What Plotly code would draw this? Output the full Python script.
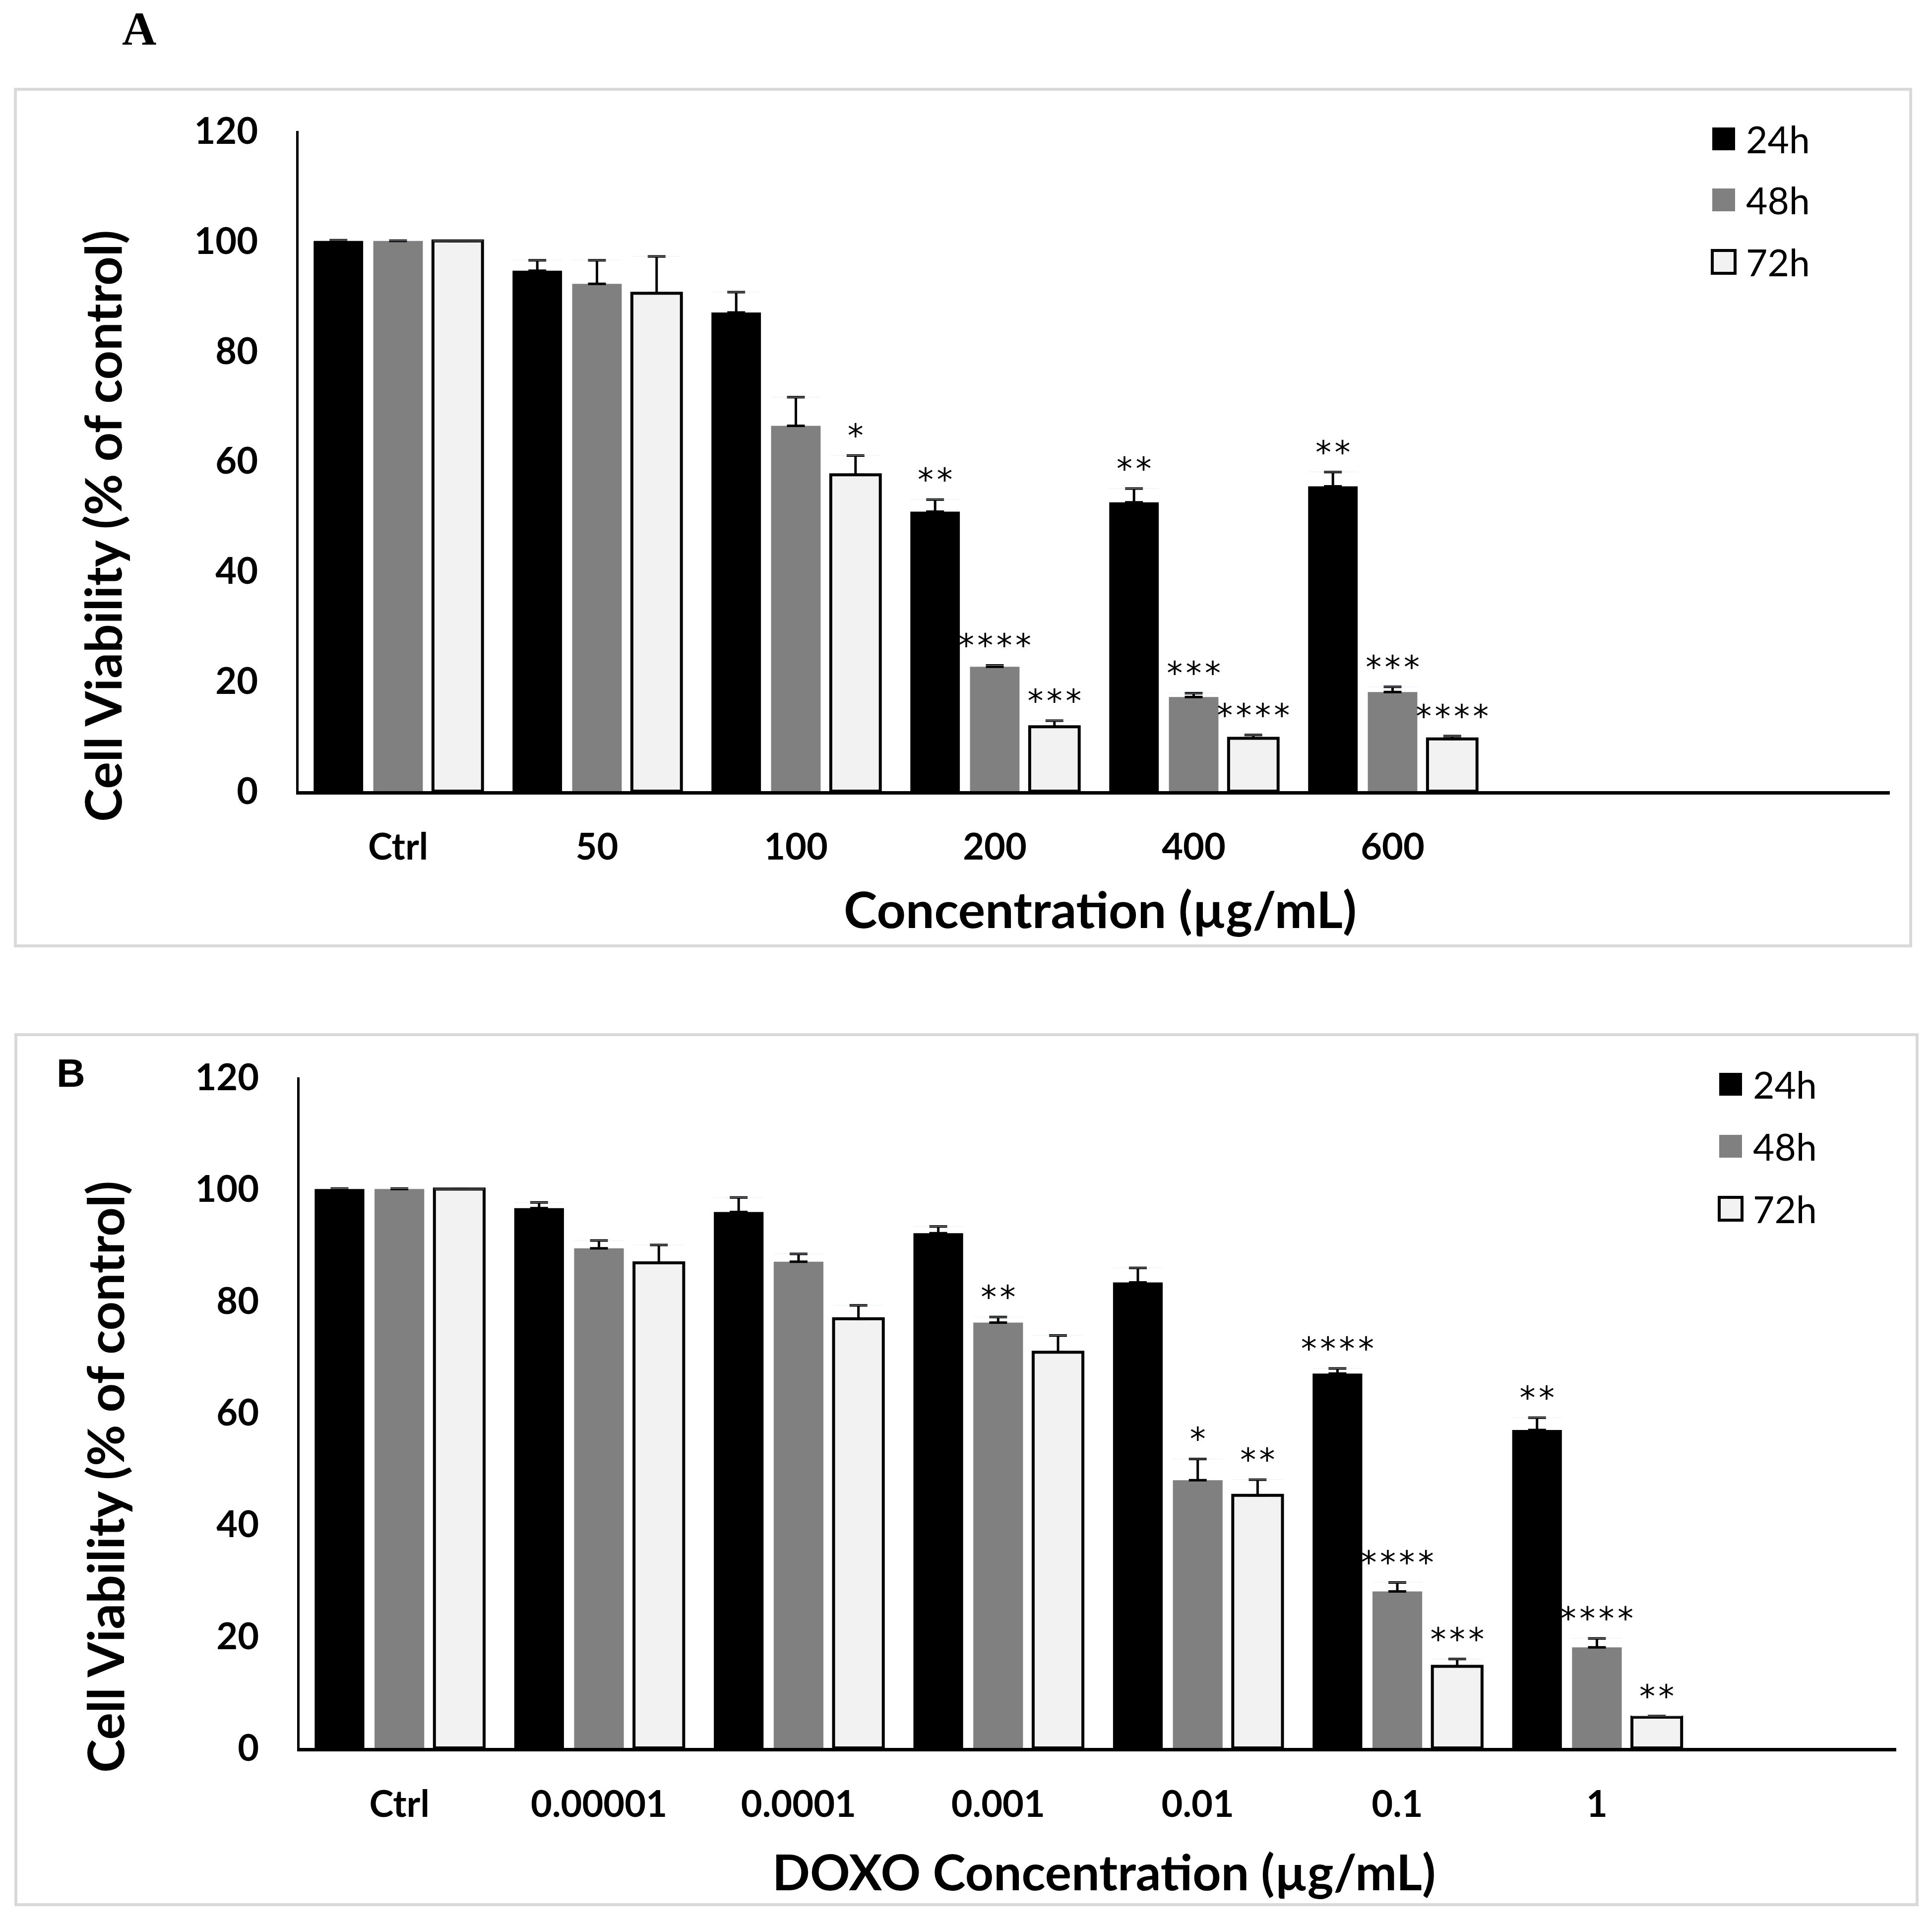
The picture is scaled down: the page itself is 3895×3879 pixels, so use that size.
import plotly.graph_objects as go

W, H = 3895, 3879

SERIES = ["24h", "48h", "72h"]

# ---------------- Panel A data ----------------
CATS_A = ["Ctrl", "50", "100", "200", "400", "600"]
A_PAD = [" ", "  "]            # empty category slots at the end of the axis
A_24 = [100, 94.6, 87.0, 50.8, 52.5, 55.4]
A_24_ERR = [0.15, 1.9, 3.7, 2.2, 2.5, 2.6]
A_48 = [100, 92.2, 66.4, 22.6, 17.1, 18.0]
A_48_ERR = [0.05, 4.3, 5.2, 0.25, 0.7, 0.95]
A_72 = [100, 90.5, 57.5, 11.7, 9.6, 9.5]
A_72_ERR = [0.0, 6.7, 3.5, 1.1, 0.6, 0.5]
A_24_SIG = ["", "", "", "**", "**", "**"]
A_48_SIG = ["", "", "", "****", "***", "***"]
A_72_SIG = ["", "", "*", "***", "****", "****"]

# ---------------- Panel B data ----------------
CATS_B = ["Ctrl", "0.00001", "0.0001", "0.001", "0.01", "0.1", "1"]
B_PAD = [" "]
B_24 = [100, 96.6, 95.9, 92.1, 83.3, 67.0, 56.9]
B_24_ERR = [0.1, 1.0, 2.6, 1.2, 2.6, 0.9, 2.2]
B_48 = [100, 89.4, 87.0, 76.1, 47.9, 28.0, 18.0]
B_48_ERR = [0.1, 1.4, 1.4, 1.0, 3.8, 1.6, 1.6]
B_72 = [100, 86.8, 76.8, 70.8, 45.2, 14.6, 5.5]
B_72_ERR = [0.0, 3.2, 2.4, 3.0, 2.8, 1.3, 0.2]
B_24_SIG = ["", "", "", "", "", "****", "**"]
B_48_SIG = ["", "", "", "**", "*", "****", "****"]
B_72_SIG = ["", "", "", "", "**", "***", "**"]

Y_TICKS = [0, 20, 40, 60, 80, 100, 120]
Y_TITLE = "Cell Viability (% of control)"
X_TITLE_A = "Concentration (µg/mL)"
X_TITLE_B = "DOXO Concentration (µg/mL)"

# ---------------- styles ----------------
FILL = {"24h": "#000000", "48h": "#808080", "72h": "#f2f2f2"}
EDGE = {"24h": 0, "48h": 0, "72h": 6}
TICKFONT = dict(family="Lato", size=74, color="black", weight="bold")
TITLEFONT = dict(family="Lato", size=102, color="black", weight="bold")
STARFONT = dict(family="DejaVu Sans", size=64, color="black")
LEGFONT = dict(family="Lato", size=75, color="black")


def fx(px):
    return px / W


def fy(py):
    return 1 - py / H


def spaced(label):
    # hair-space between asterisks to mimic the looser tracking of the original
    return "\u200a".join(label)


fig = go.Figure()

panels = [
    dict(xa="x", ya="y", cats=CATS_A,
         vals=[A_24, A_48, A_72], errs=[A_24_ERR, A_48_ERR, A_72_ERR],
         sigs=[A_24_SIG, A_48_SIG, A_72_SIG]),
    dict(xa="x2", ya="y2", cats=CATS_B,
         vals=[B_24, B_48, B_72], errs=[B_24_ERR, B_48_ERR, B_72_ERR],
         sigs=[B_24_SIG, B_48_SIG, B_72_SIG]),
]

for p in panels:
    n = len(p["cats"])
    for i, s in enumerate(SERIES):
        vals, errs, sigs = p["vals"][i], p["errs"][i], p["sigs"][i]
        fig.add_trace(go.Bar(
            x=p["cats"], y=vals, name=s, xaxis=p["xa"], yaxis=p["ya"],
            offsetgroup=s, showlegend=False, hoverinfo="skip",
            marker=dict(color=FILL[s], line=dict(color="black", width=EDGE[s])),
            error_y=dict(type="data", array=errs, arrayminus=[0] * n,
                         symmetric=False, color="black", thickness=5, width=18),
        ))
        # significance stars placed just above each error bar
        fig.add_trace(go.Bar(
            x=p["cats"], y=[0.01] * n, base=[v + e for v, e in zip(vals, errs)],
            xaxis=p["xa"], yaxis=p["ya"], offsetgroup=s, showlegend=False,
            hoverinfo="skip", marker=dict(color="rgba(0,0,0,0)"),
            text=[spaced(t) for t in sigs], textposition="outside",
            constraintext="none", textfont=STARFONT, cliponaxis=False,
        ))

common_y = dict(range=[0, 120], tickvals=Y_TICKS, showline=True, linewidth=5,
                linecolor="black", showgrid=False, zeroline=False, ticks="",
                tickfont=TICKFONT, ticklabelstandoff=62, fixedrange=True,
                automargin=False)
common_x = dict(type="category", categoryorder="array", range=[-0.5, 7.5],
                showline=True, linewidth=7, linecolor="black", showgrid=False,
                zeroline=False, ticks="", tickfont=TICKFONT, fixedrange=True,
                automargin=False)

fig.update_layout(
    width=W, height=H, autosize=False,
    margin=dict(l=0, r=0, t=0, b=0, pad=0, autoexpand=False),
    paper_bgcolor="white", plot_bgcolor="white",
    barmode="group", bargap=0.1, bargroupgap=0.17,
    xaxis=dict(domain=[fx(602), fx(3810)], anchor="y",
               categoryarray=CATS_A + A_PAD, ticklabelstandoff=42, **common_x),
    yaxis=dict(domain=[fy(1595), fy(264)], anchor="x", **common_y),
    xaxis2=dict(domain=[fx(604), fx(3823)], anchor="y2",
                categoryarray=CATS_B + B_PAD, ticklabelstandoff=43, **common_x),
    yaxis2=dict(domain=[fy(3524), fy(2172)], anchor="x2", **common_y),
)

shapes = []
annotations = []

# panel frames
for (l, t, r, b) in [(31, 180, 3852, 1907), (32, 2086, 3865, 3840)]:
    shapes.append(dict(type="rect", xref="paper", yref="paper",
                       x0=fx(l), x1=fx(r), y0=fy(b), y1=fy(t),
                       line=dict(color="#d9d9d9", width=6), fillcolor="rgba(0,0,0,0)",
                       layer="below"))

# panel letters
annotations.append(dict(text="A", x=fx(280), y=fy(57), xref="paper", yref="paper",
                        showarrow=False, xanchor="center", yanchor="middle",
                        font=dict(family="Liberation Serif", size=96, color="black",
                                  weight="bold")))
annotations.append(dict(text="B", x=fx(143), y=fy(2163), xref="paper", yref="paper",
                        showarrow=False, xanchor="center", yanchor="middle",
                        font=dict(family="Liberation Sans", size=80, color="black",
                                  weight="bold")))

# axis titles
for (txt, x, y, ang, sz) in [(Y_TITLE, 205, 1061, -90, 102), (Y_TITLE, 210, 2978, -90, 102),
                             (X_TITLE_A, 2218, 1831, 0, 102), (X_TITLE_B, 2225, 3772, 0, 100)]:
    annotations.append(dict(text=txt, x=fx(x), y=fy(y), xref="paper", yref="paper",
                            showarrow=False, xanchor="center", yanchor="middle",
                            textangle=ang, font=dict(TITLEFONT, size=sz)))

# legends (large square swatches)
for (sq_left, rows) in [(3452, [280, 403, 528]), (3466, [2186, 2311, 2437])]:
    for s, cy in zip(SERIES, rows):
        shapes.append(dict(type="rect", xref="paper", yref="paper",
                           x0=fx(sq_left), x1=fx(sq_left + 46),
                           y0=fy(cy + 23), y1=fy(cy - 23),
                           fillcolor=FILL[s],
                           line=dict(color="black", width=EDGE[s] if EDGE[s] else 0)))
        annotations.append(dict(text=s, x=fx(sq_left + 66), y=fy(cy),
                                xref="paper", yref="paper", showarrow=False,
                                xanchor="left", yanchor="middle", font=LEGFONT))

fig.update_layout(shapes=shapes, annotations=annotations)

fig.write_html("out.html", config={"displayModeBar": False},
               post_script="document.body.style.margin='0';document.body.style.overflow='hidden';")
